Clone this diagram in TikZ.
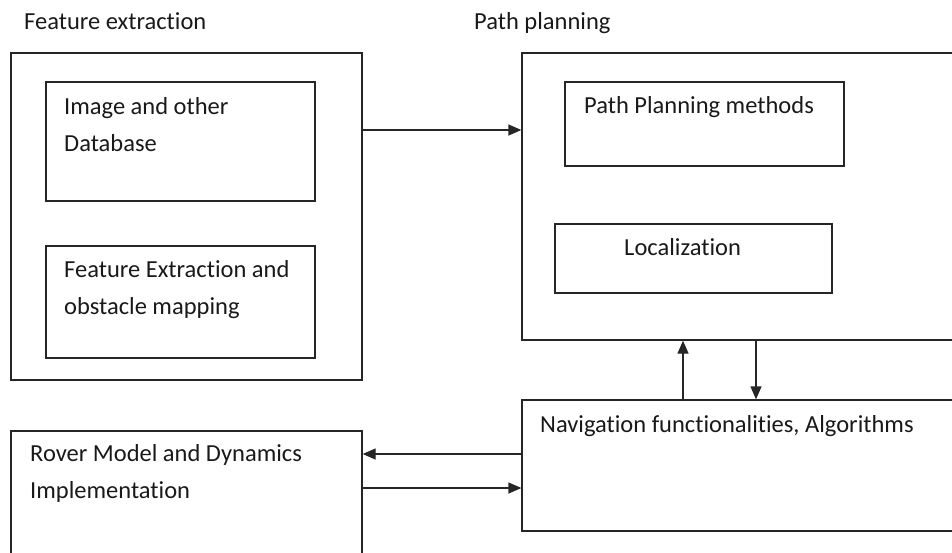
\documentclass[tikz,border=0pt]{standalone}
\usepackage{fontspec}
\setmainfont{Carlito}[Ligatures={NoCommon}]
\usetikzlibrary{positioning,arrows.meta}

\begin{document}
\begin{tikzpicture}[
    x=1pt, y=-1pt,
    box/.style={draw=black!85, line width=1.3pt, inner sep=0pt},
    txt/.style={anchor=base west, inner sep=0pt, align=left, text=black!90,
                font={\fontsize{24.5}{37}\selectfont}},
    arrow/.style={-{Triangle[length=13pt,width=11pt]}, draw=black!85, line width=1.3pt}
]
    \clip (0,0) rectangle (952,552);

    % left group (multi-line labels sit on their last baseline)
    \node[txt] (fetitle) at (24,29) {Feature extraction};
    \node[box, minimum width=351pt, minimum height=327pt] (fe) at (186.5,216.5) {};
    \node[box, minimum width=269pt, minimum height=119pt] (img) at (180.5,141.5) {};
    \node[box, minimum width=269pt, minimum height=112pt] (feat) at (180.5,302) {};
    \node[txt] (imgtext) at (64,151) {Image and other\\Database};
    \node[txt] (feattext) at (64,314) {Feature Extraction and\\obstacle mapping};

    % right group
    \node[txt] (pptitle) at (474,29) {Path planning};
    \node[box, minimum width=438pt, minimum height=287pt] (pp) at (741,196.5) {};
    \node[box, minimum width=279pt, minimum height=84pt] (ppm) at (704.5,124) {};
    \node[box, minimum width=277pt, minimum height=69pt] (loc) at (693.5,258.5) {};
    \node[txt] (ppmtext) at (584,113) {Path Planning methods};
    \node[txt] (loctext) at (624,255) {Localization};

    % bottom row
    \node[box, minimum width=438pt, minimum height=131pt] (nav) at (741,465.5) {};
    \node[box, minimum width=351pt, minimum height=139pt] (rover) at (186.5,500.5) {};
    \node[txt] (navtext) at (540,432) {Navigation functionalities, Algorithms};
    \node[txt] (rovertext) at (30,498) {Rover Model and Dynamics\\Implementation};

    \draw[arrow] (fe.east |- 0,130) -- (pp.west |- 0,130);
    \draw[arrow] (nav.north -| 683,0) -- (pp.south -| 683,0);
    \draw[arrow] (pp.south -| 756,0) -- (nav.north -| 756,0);
    \draw[arrow] (nav.west |- 0,454) -- (rover.east |- 0,454);
    \draw[arrow] (rover.east |- 0,488) -- (nav.west |- 0,488);
\end{tikzpicture}
\end{document}
